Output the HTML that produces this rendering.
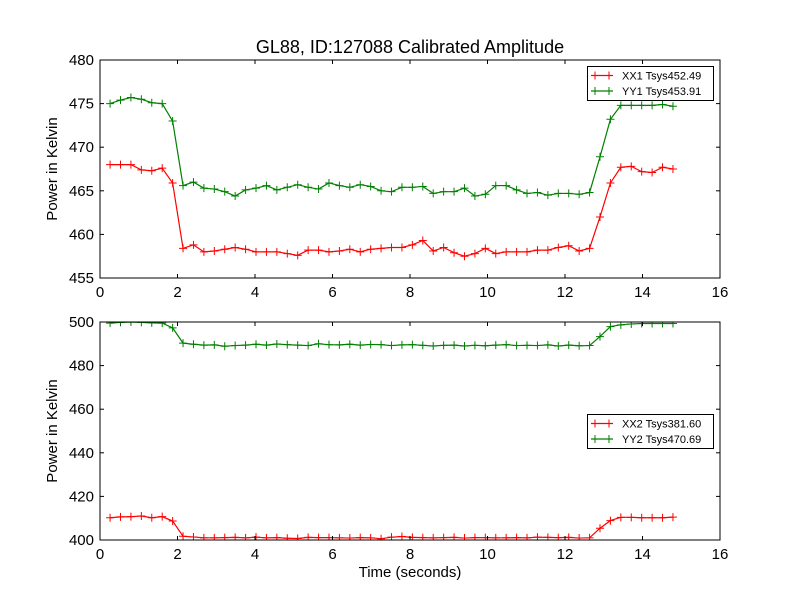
<!DOCTYPE html>
<html><head><meta charset="utf-8"><style>
body{margin:0;background:#fff}
svg{font-family:"Liberation Sans","DejaVu Sans",sans-serif}
</style></head><body>
<svg id="chart" width="800" height="600" xmlns="http://www.w3.org/2000/svg">
<rect width="800" height="600" fill="#fff"/>
</svg>
<script>
const xTicks=[0,2,4,6,8,10,12,14,16];
const yTicksTop=[455,460,465,470,475,480];
const yTicksBot=[400,420,440,460,480,500];
const t0=0.26, dt=0.269;
const xx1=[468.0,468.0,468.0,467.4,467.3,467.6,465.9,458.4,458.8,458.0,458.1,458.3,458.5,458.3,458.0,458.0,458.0,457.8,457.6,458.2,458.2,458.0,458.1,458.3,458.0,458.3,458.4,458.5,458.5,458.8,459.3,458.1,458.5,457.9,457.5,457.8,458.4,457.8,458.0,458.0,458.0,458.2,458.2,458.5,458.7,458.1,458.4,462.0,465.9,467.7,467.8,467.2,467.1,467.7,467.5];
const yy1=[475.0,475.4,475.7,475.5,475.1,475.0,473.0,465.6,466.0,465.3,465.2,464.9,464.4,465.1,465.3,465.6,465.1,465.4,465.7,465.4,465.2,465.9,465.6,465.4,465.7,465.5,465.0,464.9,465.4,465.4,465.5,464.7,464.9,464.9,465.3,464.4,464.6,465.6,465.6,465.1,464.7,464.8,464.5,464.7,464.7,464.6,464.8,468.9,473.2,474.8,474.8,474.8,474.8,474.9,474.7];
const xx2=[410.2,410.6,410.7,411.0,410.2,410.7,408.7,401.7,401.4,401.0,401.0,401.1,401.2,401.0,401.3,401.0,401.1,400.8,400.7,401.2,401.1,401.1,401.0,400.9,401.1,401.0,400.6,401.3,401.6,401.2,401.1,401.0,401.1,401.2,400.9,401.1,401.1,401.0,401.0,401.1,401.0,401.3,401.2,401.1,401.2,400.9,401.0,405.4,408.9,410.4,410.4,410.2,410.2,410.2,410.5];
const yy2=[499.5,499.8,500.0,499.8,499.6,499.5,497.3,490.3,489.8,489.4,489.5,488.9,489.2,489.4,489.8,489.4,489.9,489.6,489.4,489.2,490.0,489.6,489.5,489.8,489.4,489.7,489.6,489.2,489.5,489.6,489.3,489.0,489.3,489.4,489.0,489.3,489.1,489.4,489.6,489.2,489.3,489.2,489.5,489.0,489.4,489.1,489.2,493.3,497.9,498.7,499.1,499.3,499.3,499.3,499.3];
const NS="http://www.w3.org/2000/svg";
const svg=document.getElementById('chart');
function mk(tag,attrs,parent){const e=document.createElementNS(NS,tag);for(const k in attrs)e.setAttribute(k,attrs[k]);(parent||svg).appendChild(e);return e;}
const X0=100,X1=720;
function sx(v){return X0+(v-0)/(16-0)*(X1-X0);}
function drawPanel(top,bottom,ymin,ymax,yTicks,series,legend,name){
  const g=mk('g',{});
  
  
  const sy=v=>bottom-(v-ymin)/(ymax-ymin)*(bottom-top);
  const cid='clip-'+name;
  const cp=mk('clipPath',{id:cid},g);mk('rect',{x:X0,y:top,width:X1-X0,height:bottom-top},cp);
  series.forEach(s=>{
    const sg=mk('g',{'clip-path':'url(#'+cid+')'},g);
    
    
    const pts=s.data.map((v,i)=>[sx(t0+i*dt),sy(v)]);
    mk('polyline',{points:pts.map(p=>p.join(',')).join(' '),fill:'none',stroke:s.color,'stroke-width':1.2},sg);
    pts.forEach(p=>{
      const m=mk('path',{d:`M${p[0]-4},${p[1]}h8M${p[0]},${p[1]-4}v8`,stroke:s.color,'stroke-width':1},sg);
      
      
    });
  });
  mk('rect',{x:X0,y:top,width:X1-X0,height:bottom-top,fill:'none',stroke:'#000','stroke-width':1},g);
  xTicks.forEach(v=>{
    const x=sx(v);
    mk('line',{x1:x,y1:bottom,x2:x,y2:bottom-4,stroke:'#000'},g);
    mk('line',{x1:x,y1:top,x2:x,y2:top+4,stroke:'#000'},g);
    const tx=mk('text',{x:x,y:bottom+19,'font-size':15,'text-anchor':'middle'},g);tx.textContent=v;
    
    
  });
  yTicks.forEach(v=>{
    const y=sy(v);
    mk('line',{x1:X0,y1:y,x2:X0+4,y2:y,stroke:'#000'},g);
    mk('line',{x1:X1,y1:y,x2:X1-4,y2:y,stroke:'#000'},g);
    const ty=mk('text',{x:X0-6,y:y+5,'font-size':15,'text-anchor':'end'},g);ty.textContent=v;
    
    
  });
  const yl=mk('text',{x:0,y:0,'font-size':15,'text-anchor':'middle',transform:`translate(57,${(top+bottom)/2}) rotate(-90)`},g);
  yl.textContent='Power in Kelvin';
  
  
  const lg=mk('g',{},g);
  
  
  mk('rect',{x:587.5,y:legend.y,width:126,height:34,fill:'#fff',stroke:'#000'},lg);
  series.forEach((s,i)=>{
    const yy=legend.y+9+i*15.5;
    mk('line',{x1:591,y1:yy,x2:613,y2:yy,stroke:s.color,'stroke-width':1.2},lg);
    mk('path',{d:`M${595},${yy-4}v8M${609},${yy-4}v8`,stroke:s.color},lg);
    const lt=mk('text',{x:622,y:yy+4,'font-size':11},lg);lt.textContent=s.label;
    
    
  });
}
drawPanel(60,278,455,480,yTicksTop,[{name:'xx1-line',data:xx1,color:'#ff0000',label:'XX1 Tsys452.49'},{name:'yy1-line',data:yy1,color:'#008000',label:'YY1 Tsys453.91'}],{y:66.5},'top-panel');
drawPanel(322,540,400,500,yTicksBot,[{name:'xx2-line',data:xx2,color:'#ff0000',label:'XX2 Tsys381.60'},{name:'yy2-line',data:yy2,color:'#008000',label:'YY2 Tsys470.69'}],{y:414.5},'bottom-panel');
const title=mk('text',{x:410,y:53,'font-size':18,'text-anchor':'middle'});
title.textContent='GL88, ID:127088 Calibrated Amplitude';


const xt=mk('text',{x:410,y:577,'font-size':15,'text-anchor':'middle'});
xt.textContent='Time (seconds)';


</script>
</body></html>
